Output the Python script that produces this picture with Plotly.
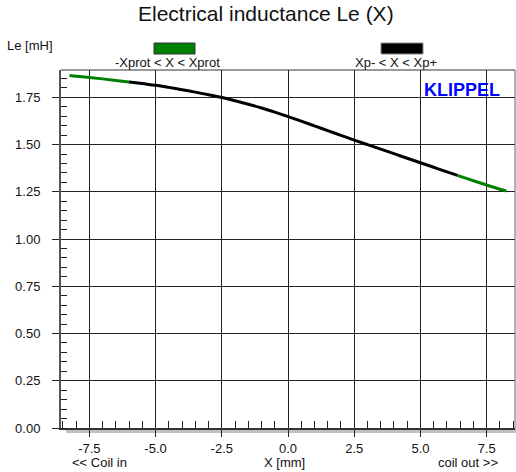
import plotly.graph_objects as go

# Data
x_mm = [-8.25, -8.0, -7.5, -7.0, -6.5, -6.0, -5.5, -5.0, -4.5, -4.0, -3.5, -3.0,
        -2.5, -2.0, -1.5, -1.0, -0.5, 0.0, 0.5, 1.0, 1.5, 2.0, 2.5, 3.0, 3.5,
        4.0, 4.5, 5.0, 5.5, 6.0, 6.4, 6.5, 7.0, 7.5, 8.0, 8.25]
le_mh = [1.866, 1.862, 1.855, 1.848, 1.840, 1.832, 1.823, 1.814, 1.803, 1.791,
         1.778, 1.764, 1.749, 1.732, 1.714, 1.694, 1.672, 1.648, 1.624, 1.599,
         1.574, 1.549, 1.524, 1.500, 1.476, 1.452, 1.428, 1.404, 1.380, 1.356,
         1.337, 1.332, 1.309, 1.286, 1.264, 1.254]
xp_minus, xp_plus = -6.0, 6.4
x_ticks = [-7.5, -5.0, -2.5, 0.0, 2.5, 5.0, 7.5]
y_ticks = [0.0, 0.25, 0.5, 0.75, 1.0, 1.25, 1.5, 1.75]

W, H = 516, 472
ML, MR, MT = 61, 1, 70
MB = H - 428
PW, PH = W - ML - MR, H - MT - MB

def px(xp):
    return (xp - ML) / PW

def py(yp):
    return (H - MB - yp) / PH

GREEN = "#008000"
FONT = "Liberation Sans, Arial, sans-serif"

fig = go.Figure()

seg_low = [(x, y) for x, y in zip(x_mm, le_mh) if x <= xp_minus]
seg_mid = [(x, y) for x, y in zip(x_mm, le_mh) if xp_minus <= x <= xp_plus]
seg_high = [(x, y) for x, y in zip(x_mm, le_mh) if x >= xp_plus]

for seg, col in [(seg_low, GREEN), (seg_high, GREEN), (seg_mid, "black")]:
    fig.add_trace(go.Scatter(x=[p[0] for p in seg], y=[p[1] for p in seg],
                             mode="lines", line=dict(color=col, width=3, shape="spline"),
                             showlegend=False, hoverinfo="skip"))

fig.update_xaxes(range=[-8.57, 8.57], tickvals=x_ticks, ticktext=[f"{v:.1f}" for v in x_ticks],
                 showgrid=True, gridcolor="#222", gridwidth=1, zeroline=False,
                 showline=True, linecolor="#333", linewidth=2, mirror=False,
                 ticks="outside", ticklen=7, tickcolor="#222", tickwidth=1,
                 minor=dict(dtick=0.5, tick0=0, ticks="inside", ticklen=7, tickcolor="#222", showgrid=False),
                 tickfont=dict(family=FONT, size=13, color="#111"))
fig.update_yaxes(range=[0, 1.895], tickvals=y_ticks, ticktext=[f"{v:.2f}" for v in y_ticks],
                 showgrid=True, gridcolor="#222", gridwidth=1, zeroline=False,
                 showline=True, linecolor="#555", linewidth=2,
                 ticks="outside", ticklen=7, tickcolor="#222", tickwidth=1,
                 ticklabelstandoff=9,
                 minor=dict(dtick=0.05, tick0=0, ticks="inside", ticklen=6, tickcolor="#222", showgrid=False),
                 tickfont=dict(family=FONT, size=13, color="#111"))

shapes = [
    dict(type="line", xref="paper", yref="paper", x0=0, x1=1, y0=1, y1=1, line=dict(color="#333", width=1)),
    dict(type="line", xref="paper", yref="paper", x0=1, x1=1, y0=0, y1=1, line=dict(color="#666", width=1)),
    dict(type="rect", xref="paper", yref="paper", x0=px(66), x1=1.01, y0=py(433), y1=py(428),
         fillcolor="#c0c0c0", line=dict(width=0), layer="below"),
    dict(type="rect", xref="paper", yref="paper", x0=px(154), x1=px(195), y0=py(54), y1=py(43),
         fillcolor=GREEN, line=dict(color="#333", width=1)),
    dict(type="rect", xref="paper", yref="paper", x0=px(381), x1=px(423), y0=py(54), y1=py(43),
         fillcolor="black", line=dict(color="#888", width=1)),
]

ann = []
def text(xp, yp, s, size=13, anchor="center", color="#111", bold=False):
    ann.append(dict(xref="paper", yref="paper", x=px(xp), y=py(yp), text=f"<b>{s}</b>" if bold else s,
                    showarrow=False, xanchor=anchor, yanchor="middle",
                    font=dict(family=FONT, size=size, color=color)))

text(266, 14, "Electrical inductance Le (X)", size=21)
text(5, 45, "Le [mH]", anchor="left")
text(167.5, 62, "-Xprot &lt; X &lt; Xprot")
text(395.5, 62, "Xp- &lt; X &lt; Xp+")
text(461.7, 90, "KLIPPEL", size=18, color="#0000ff", bold=True)
text(70, 462, "&lt;&lt; Coil in", anchor="left")
text(284, 462, "X [mm]")
text(500, 462, "coil out &gt;&gt;", anchor="right")

fig.update_layout(width=W, height=H, margin=dict(l=ML, r=MR, t=MT, b=MB),
                  paper_bgcolor="white", plot_bgcolor="white",
                  shapes=shapes, annotations=ann, showlegend=False)

fig.write_html("out.html", config={"displayModeBar": False},
               post_script="document.body.style.margin='0px';document.body.style.overflow='hidden';")
